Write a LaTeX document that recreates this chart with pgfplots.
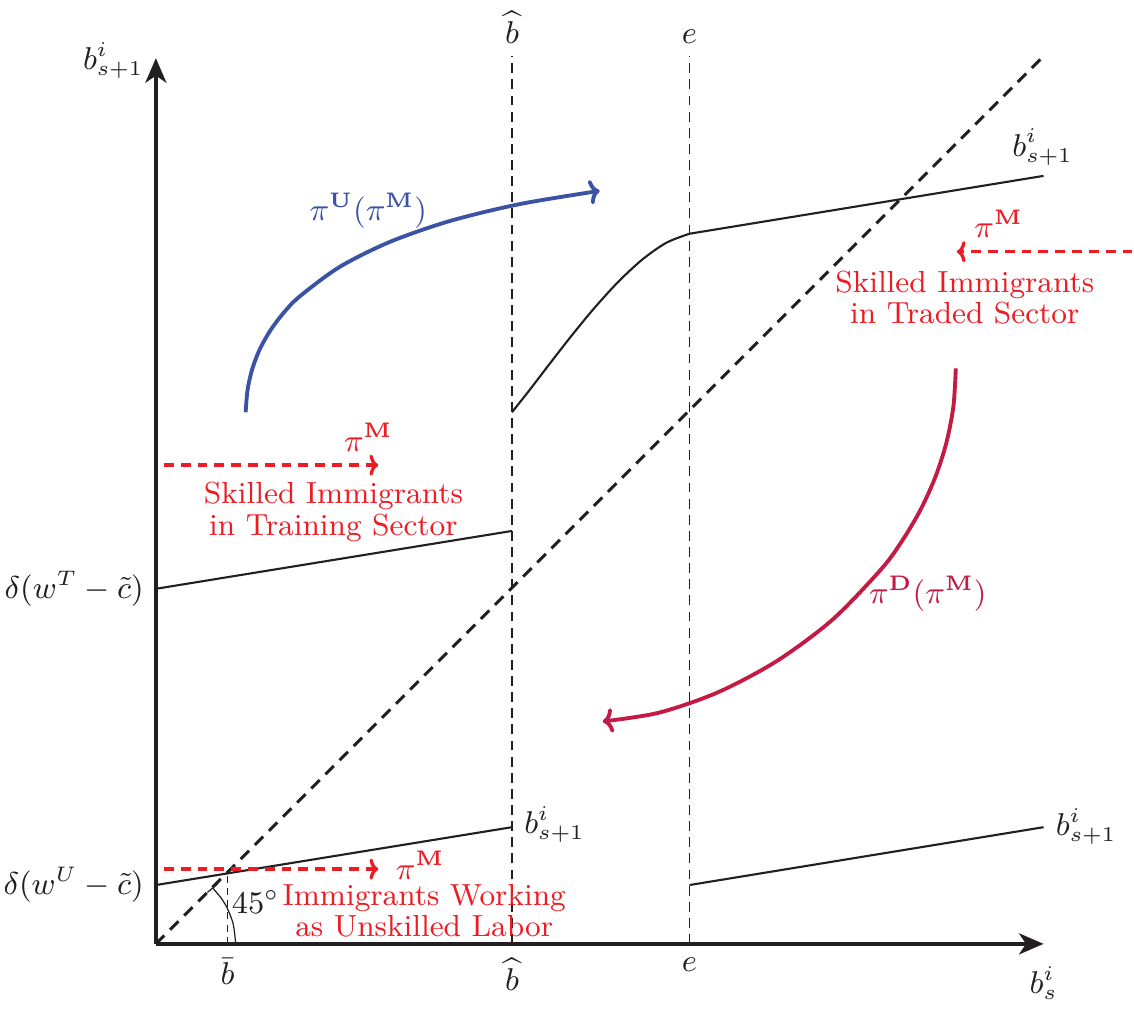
\documentclass[border=0pt]{standalone}
\usepackage{pgfplots}
\pgfplotsset{compat=1.18}
\usetikzlibrary{arrows.meta}

\definecolor{axcol}{HTML}{231F20}
\definecolor{myred}{HTML}{ED1C24}
\definecolor{myblue}{HTML}{3A53A4}
\definecolor{mycrim}{HTML}{C41A43}

\begin{document}
\begin{tikzpicture}[font=\fontsize{8.7}{7.5}\selectfont]
\begin{axis}[
    x=1cm, y=1cm,
    xmin=0, xmax=8.9, ymin=0, ymax=8.9,
    hide axis,
    clip=false,
]
% page extent
\path (axis cs:-1.55,-0.52) rectangle (axis cs:9.79,9.40);

% guides
\addplot[axcol, line width=0.55pt, dash pattern=on 2.8pt off 1.8pt] coordinates {(3.57,0) (3.57,8.9)};
\addplot[axcol, line width=0.55pt, dash pattern=on 2.8pt off 1.8pt] coordinates {(5.35,0) (5.35,8.9)};
\addplot[axcol, line width=0.3pt, dash pattern=on 2pt off 1.5pt] coordinates {(0.72,0) (0.72,0.70)};
\addplot[axcol, line width=0.9pt, dash pattern=on 3.4pt off 2.3pt] coordinates {(0,0) (8.9,8.9)};

% 45 degree arc
\addplot[axcol, line width=0.35pt, smooth, {Bar[width=4pt]}-] coordinates {
    (0.566,0.566) (0.693,0.400) (0.773,0.207) (0.800,0.000)};

% b_{s+1} branches
\addplot[axcol, line width=0.6pt] coordinates {(0,0.59) (3.57,1.17)};
\addplot[axcol, line width=0.6pt] coordinates {(0,3.56) (3.57,4.14)};
\addplot[axcol, line width=0.6pt] coordinates {(5.35,0.59) (8.90,1.17)};
\addplot[axcol, line width=0.6pt, smooth] coordinates {
    (3.57,5.33) (3.745,5.551) (3.945,5.812) (4.164,6.093) (4.396,6.375)
    (4.636,6.638) (4.879,6.863) (5.119,7.030) (5.35,7.12)};
\addplot[axcol, line width=0.6pt] coordinates {(5.35,7.12) (8.90,7.70)};

% axes
\addplot[axcol, line width=1pt, -{Stealth[length=7pt,width=6pt,inset=2pt]}] coordinates {(0,0) (8.9,0)};
\addplot[axcol, line width=1pt, -{Stealth[length=7pt,width=6pt,inset=2pt]}] coordinates {(0,0) (0,8.88)};

% flows
\addplot[myblue, line width=1.1pt, smooth, -{To[length=3pt,width=7pt]}] coordinates {
    (0.90,5.33) (0.919,5.553) (0.966,5.763) (1.042,5.962) (1.147,6.149)
    (1.279,6.325) (1.439,6.489) (1.839,6.785) (2.343,7.037) (2.949,7.248)
    (3.652,7.418) (4.45,7.55)};
\addplot[mycrim, line width=1.1pt, smooth, -{To[length=3pt,width=7pt]}] coordinates {
    (8.02,5.77) (7.996,5.390) (7.926,5.026) (7.815,4.681) (7.667,4.354)
    (7.485,4.046) (7.274,3.759) (6.783,3.250) (6.224,2.835) (5.632,2.521)
    (5.040,2.317) (4.48,2.23)};

\addplot[myred, line width=0.95pt, dash pattern=on 2.8pt off 2pt, -{To[length=2.5pt,width=6pt]}] coordinates {(0.08,4.80) (2.23,4.80)};
\addplot[myred, line width=0.95pt, dash pattern=on 2.8pt off 2pt, -{To[length=2.5pt,width=6pt]}] coordinates {(0.08,0.75) (2.23,0.75)};
\addplot[myred, line width=0.95pt, dash pattern=on 2.8pt off 2pt, -{To[length=2.5pt,width=6pt]}] coordinates {(9.79,6.94) (8.03,6.94)};

% labels
\node[anchor=east, text=axcol] at (axis cs:0,8.86) {$b^i_{s+1}$};
\node[anchor=north, text=axcol] at (axis cs:8.9,-0.1) {$b^i_s$};
\node[anchor=south, text=axcol] at (axis cs:3.57,8.9) {$\widehat{b}$};
\node[anchor=south, text=axcol] at (axis cs:5.35,8.9) {$e$};
\node[anchor=north, text=axcol] at (axis cs:0.72,-0.02) {$\bar{b}$};
\node[anchor=north, text=axcol] at (axis cs:3.57,-0.02) {$\widehat{b}$};
\node[anchor=north, text=axcol] at (axis cs:5.35,-0.02) {$e$};
\node[anchor=east, inner sep=1pt, text=axcol] at (axis cs:-0.08,3.56) {$\delta(w^T-\tilde{c})$};
\node[anchor=east, inner sep=1pt, text=axcol] at (axis cs:-0.08,0.59) {$\delta(w^U-\tilde{c})$};
\node[anchor=west, text=axcol] at (axis cs:3.57,1.20) {$b^i_{s+1}$};
\node[anchor=west, text=axcol] at (axis cs:8.90,1.18) {$b^i_{s+1}$};
\node[text=axcol] at (axis cs:8.89,7.99) {$b^i_{s+1}$};
\node[text=axcol] at (axis cs:1.00,0.42) {$45^\circ$};

\node[text=myblue] at (axis cs:2.13,7.35) {$\pi^{\mathbf{U}}(\pi^{\mathbf{M}})$};
\node[text=mycrim] at (axis cs:7.74,3.51) {$\pi^{\mathbf{D}}(\pi^{\mathbf{M}})$};
\node[text=myred] at (axis cs:2.13,5.08) {$\pi^{\mathbf{M}}$};
\node[text=myred] at (axis cs:2.65,0.79) {$\pi^{\mathbf{M}}$};
\node[text=myred] at (axis cs:8.45,7.22) {$\pi^{\mathbf{M}}$};

\node[text=myred, align=center] at (axis cs:1.78,4.33) {Skilled Immigrants\\in Training Sector};
\node[text=myred, align=center] at (axis cs:8.11,6.48) {Skilled Immigrants\\in Traded Sector};
\node[text=myred, align=center] at (axis cs:2.69,0.33) {Immigrants Working\\as Unskilled Labor};
\end{axis}
\end{tikzpicture}
\end{document}
